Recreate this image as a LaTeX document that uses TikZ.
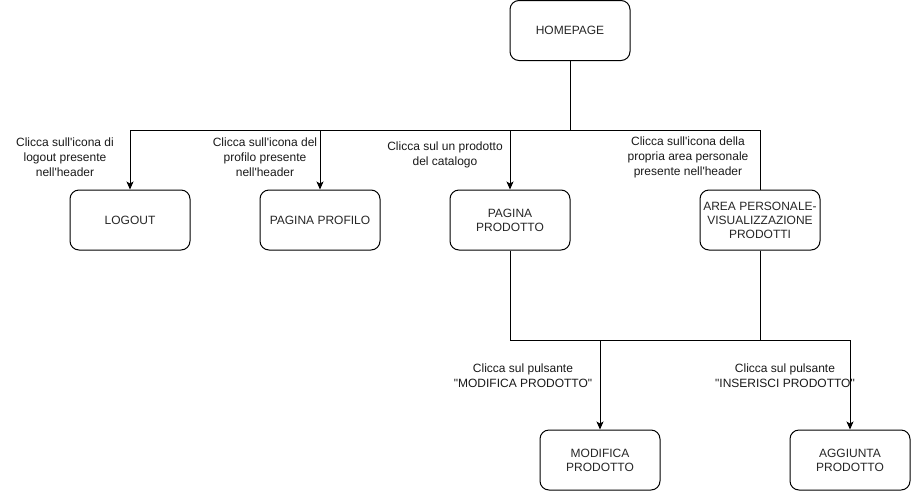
\documentclass[tikz,border=0pt]{standalone}
\usepackage{fontspec}
\setmainfont{Liberation Sans}[Ligatures=ResetAll]
\usetikzlibrary{arrows.meta}
\begin{document}
\begin{tikzpicture}[x=1pt,y=-1pt,
  box/.style={draw,line width=1pt,rounded corners=9pt,minimum width=120pt,minimum height=60pt,align=center,font=\fontsize{12}{14}\selectfont,text=black!85,inner sep=0pt},
  lbl/.style={align=center,font=\fontsize{12}{15}\selectfont,text=black!90,inner sep=0pt},
  conn/.style={line width=1pt},
  arr/.style={conn,-{Stealth[length=8pt,width=7pt,inset=2pt]}}]
\useasboundingbox (0,0) rectangle (911,491);
\node[box] (home) at (570,30.5) {HOMEPAGE};
\node[box] (logout) at (130,220) {LOGOUT};
\node[box] (profilo) at (320,220) {PAGINA PROFILO};
\node[box] (prodotto) at (510,220) {PAGINA\\PRODOTTO};
\node[box] (area) at (760,220) {AREA PERSONALE-\\VISUALIZZAZIONE\\PRODOTTI};
\node[box] (modifica) at (600,460) {MODIFICA\\PRODOTTO};
\node[box] (aggiunta) at (850,460) {AGGIUNTA\\PRODOTTO};
\coordinate (j1) at (570,130);
\coordinate (j2) at (600,340);
\coordinate (j3) at (850,340);
\draw[conn] (home.south) -- (j1);
\draw[arr] (j1) -| (logout.north);
\draw[arr] (j1) -| (profilo.north);
\draw[arr] (j1) -| (prodotto.north);
\draw[conn] (j1) -| (area.north);
\draw[conn] (prodotto.south) |- (j2);
\draw[conn] (area.south) |- (j2);
\draw[arr] (j2) -- (modifica.north);
\draw[arr] (area.south) |- (j3) -- (aggiunta.north);
\node[lbl] (l1) at (65,157) {Clicca sull\textquotesingle icona di\\logout presente\\nell\textquotesingle header};
\node[lbl] (l2) at (265,157) {Clicca sull\textquotesingle icona del\\profilo presente\\nell\textquotesingle header};
\node[lbl] (l3) at (445,154.5) {Clicca sul un prodotto\\del catalogo};
\node[lbl] (l4) at (688,157) {Clicca sull\textquotesingle icona della\\propria area personale\\presente nell\textquotesingle header};
\node[lbl] (l5) at (523,375.5) {Clicca sul pulsante\\\textquotedbl MODIFICA PRODOTTO\textquotedbl};
\node[lbl] (l6) at (785,375.5) {Clicca sul pulsante\\\textquotedbl INSERISCI PRODOTTO\textquotedbl};
\end{tikzpicture}
\end{document}
